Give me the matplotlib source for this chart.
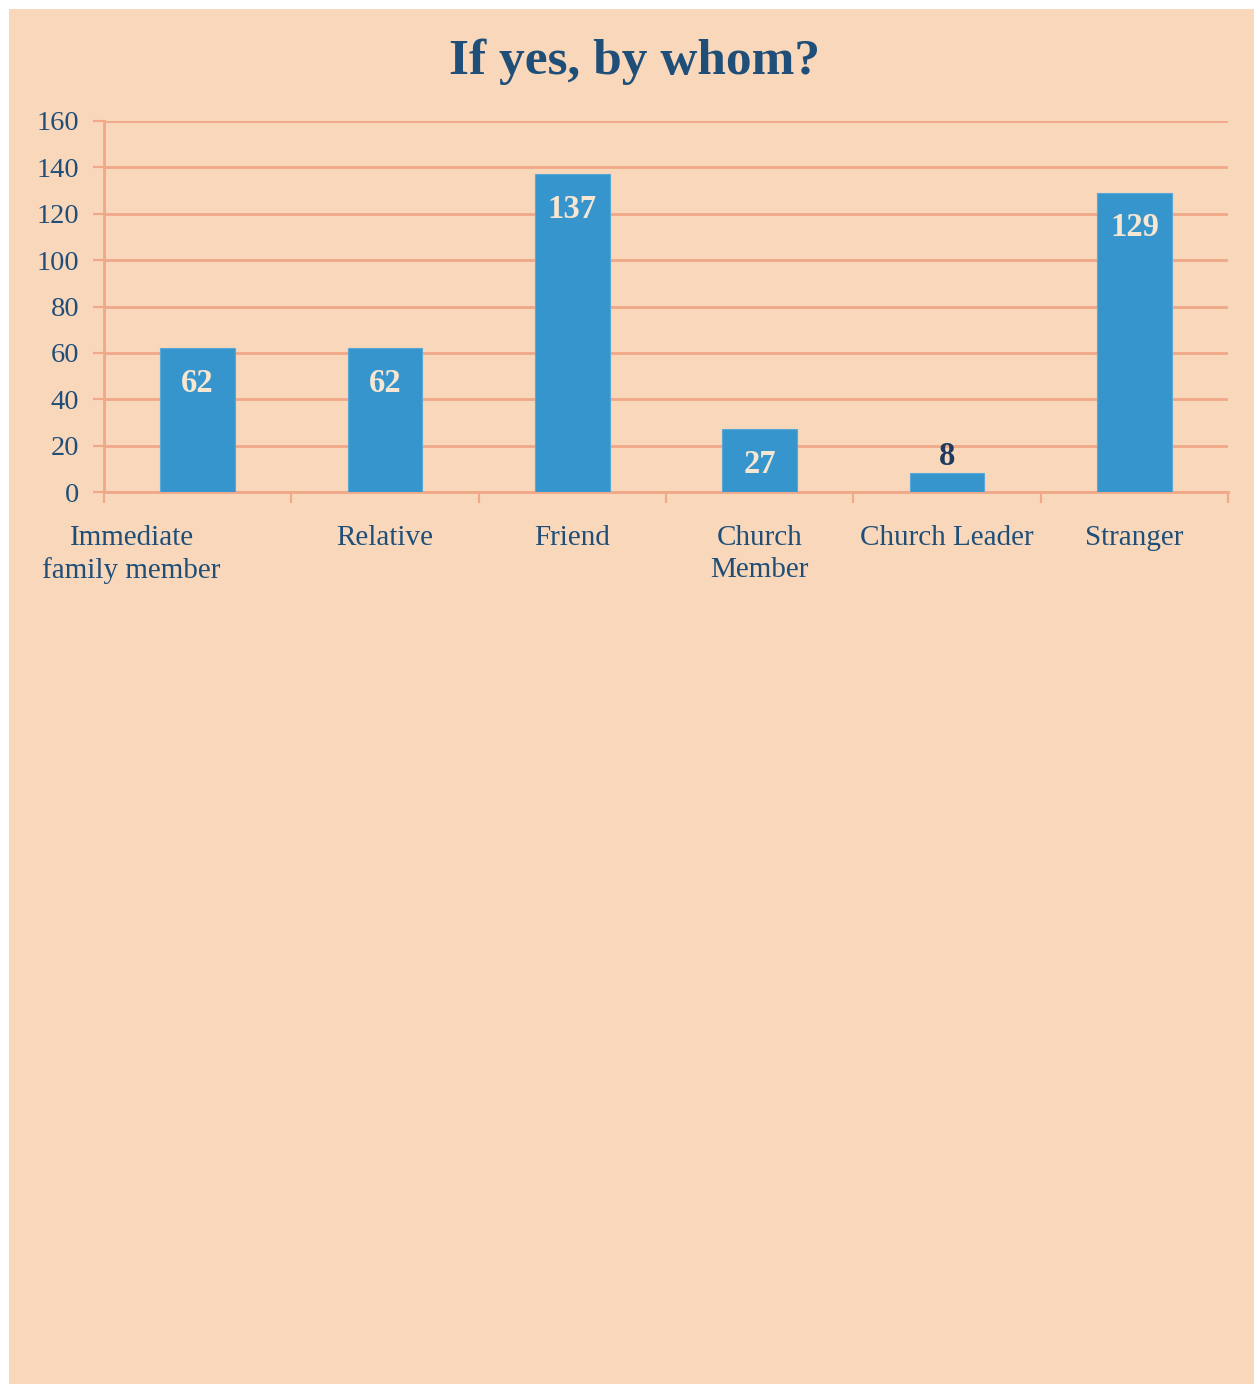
import matplotlib

matplotlib.use("Agg")
import matplotlib.pyplot as plt
import matplotlib.transforms as mtransforms
import numpy as np
from matplotlib.patches import Rectangle

categories = [
    "Immediate\nfamily member",
    "Relative",
    "Friend",
    "Church\nMember",
    "Church Leader",
    "Stranger",
]
counts = [62, 62, 137, 27, 8, 129]
y_ticks = [0, 20, 40, 60, 80, 100, 120, 140, 160]

BG = "#F8D7BA"
GRID = "#F0A888"
BAR = "#3595CC"
TEXT = "#1F4E79"
LABEL_IN = "#F6E6D2"
LABEL_OUT = "#1F3A5F"

plt.rcParams["font.family"] = ["Liberation Serif", "DejaVu Serif"]

W, H = 1254, 1384
fig = plt.figure(figsize=(W / 100, H / 100), dpi=100, facecolor="white")
fig.patches.append(
    Rectangle((9 / W, 0), 1 - 9 / W, 1 - 9 / H, transform=fig.transFigure,
              facecolor=BG, edgecolor="none", zorder=-10)
)

ax = fig.add_axes([104 / W, 1 - 492 / H, (1228 - 104) / W, (492 - 121) / H])
ax.set_facecolor(BG)
ax.patch.set_alpha(0)

x = np.arange(len(categories))
ax.bar(x, counts, width=0.4, color=BAR, edgecolor="#5AA8D6", linewidth=0.8, zorder=3)

ax.set_xlim(-0.5, len(categories) - 0.5)
ax.set_ylim(0, 160)
ax.set_yticks(y_ticks)
ax.set_yticklabels([str(v) for v in y_ticks], fontsize=20.5, color=TEXT)
ax.yaxis.grid(True, color=GRID, linewidth=2, zorder=0)
ax.set_axisbelow(True)

ax.set_xticks(x)
ax.set_xticklabels(categories, fontsize=21, color=TEXT, linespacing=1.28)
ax.set_xticks(np.arange(len(categories) + 1) - 0.5, minor=True)
ax.tick_params(axis="x", which="major", length=0, pad=24)
ax.tick_params(axis="x", which="minor", length=8, width=1.5, color=GRID)
ax.tick_params(axis="y", length=8, width=1.5, color=GRID, pad=10)

# first label overflows in the original and is pushed left
first = ax.get_xticklabels()[0]
first.set_transform(first.get_transform() + mtransforms.ScaledTranslation(-66 / 100, 0, fig.dpi_scale_trans))

for side in ["top", "right"]:
    ax.spines[side].set_visible(False)
for side in ["left", "bottom"]:
    ax.spines[side].set_color(GRID)
    ax.spines[side].set_linewidth(2)

for xi, v in zip(x, counts):
    if v >= 20:
        ax.annotate(str(v), (xi, v), xytext=(0, -14), textcoords="offset points",
                    ha="center", va="top", fontsize=23.5, fontweight="bold",
                    color=LABEL_IN, zorder=4)
    else:
        ax.annotate(str(v), (xi, v), xytext=(0, 1), textcoords="offset points",
                    ha="center", va="bottom", fontsize=23.5, fontweight="bold",
                    color=LABEL_OUT, zorder=4)

fig.text(634 / W, 1 - 62 / H, "If yes, by whom?", ha="center", va="center",
         fontsize=37, fontweight="bold", color=TEXT)

fig.savefig("out.png", dpi=100, facecolor=fig.get_facecolor())
